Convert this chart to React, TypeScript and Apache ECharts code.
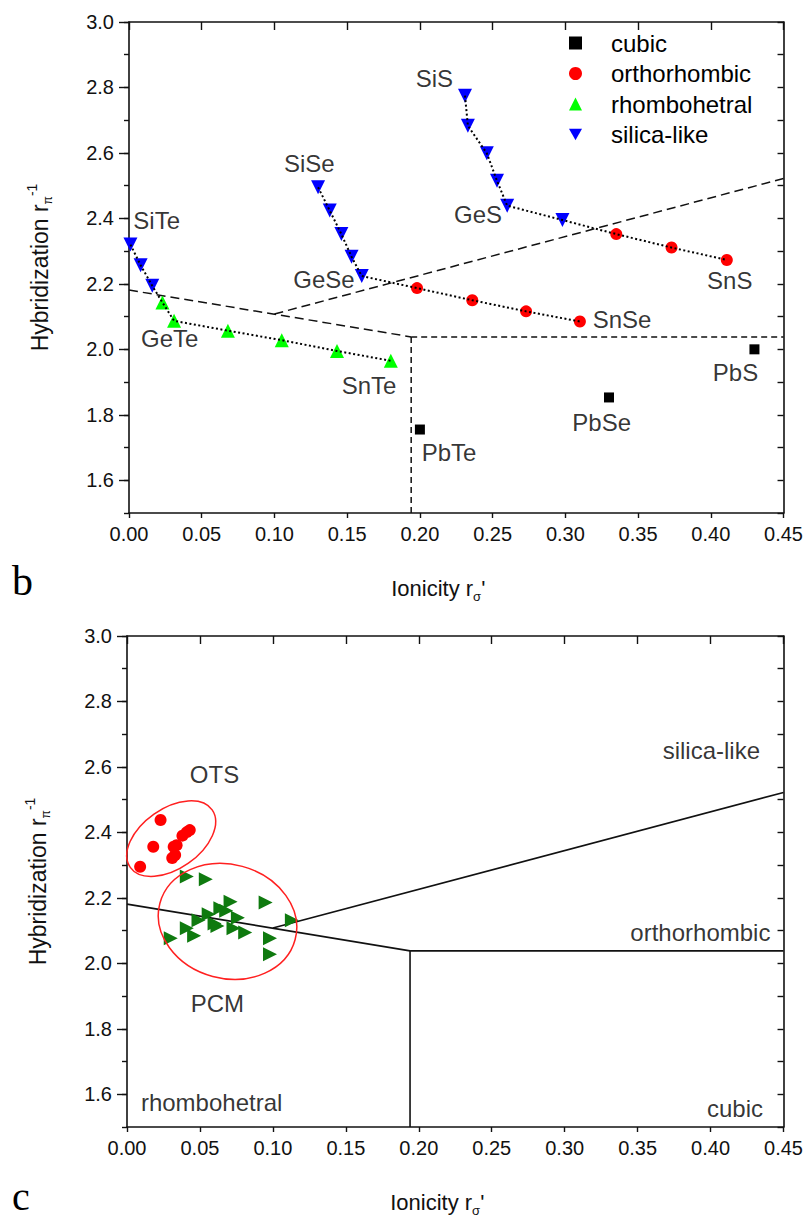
import React, { useEffect, useRef } from 'react';
import * as echarts from 'echarts';

const FONT = 'Arial, "Liberation Sans", Helvetica, sans-serif';

// ---------- panel b data ----------
const CUBIC = [[0.200, 1.755], [0.330, 1.853], [0.430, 2.000]];
const TE_SILICA = [[0.001, 2.320], [0.008, 2.257], [0.016, 2.194]];
const TE_RHOMBO = [[0.023, 2.143], [0.031, 2.087], [0.068, 2.057], [0.105, 2.028], [0.143, 1.995], [0.180, 1.965]];
const SE_SILICA = [[0.130, 2.495], [0.138, 2.424], [0.146, 2.352], [0.153, 2.283], [0.160, 2.224]];
const SE_ORTHO = [[0.198, 2.187], [0.236, 2.150], [0.273, 2.116], [0.310, 2.085]];
const S_SILICA = [[0.231, 2.775], [0.233, 2.683], [0.246, 2.599], [0.253, 2.515], [0.260, 2.439], [0.298, 2.395]];
const S_ORTHO = [[0.335, 2.352], [0.373, 2.311], [0.411, 2.273]];

const COMPOUND_LABELS_B = [
  { name: 'SiTe', value: [0.019, 2.395] },
  { name: 'GeTe', value: [0.028, 2.033] },
  { name: 'SnTe', value: [0.165, 1.890] },
  { name: 'SiSe', value: [0.124, 2.568] },
  { name: 'GeSe', value: [0.134, 2.213] },
  { name: 'SnSe', value: [0.339, 2.092] },
  { name: 'SiS', value: [0.210, 2.826] },
  { name: 'GeS', value: [0.240, 2.411] },
  { name: 'SnS', value: [0.413, 2.211] },
  { name: 'PbTe', value: [0.220, 1.686] },
  { name: 'PbSe', value: [0.325, 1.776] },
  { name: 'PbS', value: [0.417, 1.930] },
];

// phase boundaries (shared by both panels)
const BOUNDARY_RHOMBO = [[0.000, 2.181], [0.194, 2.038]];
const BOUNDARY_CUBIC_V = [[0.194, 2.038], [0.194, 1.5]];
const BOUNDARY_CUBIC_H = [[0.194, 2.038], [0.45, 2.038]];
const BOUNDARY_SILICA = [[0.100, 2.108], [0.45, 2.522]];

// ---------- panel c data ----------
const OTS = [[0.023, 2.438], [0.043, 2.407], [0.041, 2.401], [0.038, 2.390], [0.018, 2.356], [0.032, 2.356], [0.034, 2.361], [0.033, 2.331], [0.031, 2.322], [0.009, 2.295]];
const PCM = [[0.041, 2.265], [0.054, 2.257], [0.095, 2.186], [0.071, 2.188], [0.064, 2.168], [0.068, 2.161], [0.056, 2.150], [0.076, 2.139], [0.049, 2.132], [0.113, 2.132], [0.060, 2.122], [0.062, 2.114], [0.041, 2.107], [0.073, 2.107], [0.081, 2.094], [0.046, 2.084], [0.030, 2.077], [0.098, 2.077], [0.098, 2.028]];
const ELLIPSE_CENTERS = [[0.0303, 2.381], [0.0689, 2.128]];

const REGION_LABELS_C = [
  { name: 'OTS', value: [0.060, 2.576] },
  { name: 'PCM', value: [0.062, 1.876] },
  { name: 'silica-like', value: [0.4005, 2.650] },
  { name: 'orthorhombic', value: [0.393, 2.093] },
  { name: 'rhombohetral', value: [0.058, 1.576] },
  { name: 'cubic', value: [0.4167, 1.558] },
];

const X_MIN = 0, X_MAX = 0.45, X_STEP = 0.05;
const Y_MIN = 1.5, Y_MAX = 3.0, Y_MINOR = 0.1;
const Y_TICK_LABELS = [1.6, 1.8, 2.0, 2.2, 2.4, 2.6, 2.8, 3.0];

const LEGEND_NAMES = ['cubic', 'orthorhombic', 'rhombohetral', 'silica-like'];

const AXIS_COLOR = '#111';

function axesFor(g: number) {
  const line = { show: true, onZero: false, lineStyle: { color: AXIS_COLOR, width: 1.6 } };
  const tickStyle = { color: AXIS_COLOR, width: 1.4 };
  const xAxes = [
    {
      type: 'value', gridIndex: g, min: X_MIN, max: X_MAX, interval: X_STEP, position: 'bottom',
      axisLine: line, axisTick: { show: true, inside: false, length: 5, lineStyle: tickStyle },
      axisLabel: { color: '#111', fontSize: 20, fontFamily: FONT, margin: 11, formatter: (v: number) => v.toFixed(2) },
      splitLine: { show: false },
      name: '{a|Ionicity r}{sub|σ}{a|\'}', nameLocation: 'middle', nameGap: 60,
      nameTextStyle: {
        padding: [0, 36, 0, 0],
        rich: {
          a: { fontSize: 22, fontFamily: FONT, color: '#111', lineHeight: 30 },
          sub: { fontSize: 13, fontFamily: FONT, color: '#111', lineHeight: 14, padding: [16, 0, 0, 0] },
        },
      },
    },
    {
      type: 'value', gridIndex: g, min: X_MIN, max: X_MAX, interval: X_STEP, position: 'top',
      axisLine: line, axisTick: { show: true, inside: true, length: 8, lineStyle: tickStyle },
      axisLabel: { show: false }, splitLine: { show: false },
    },
  ];
  const yAxes = [
    {
      type: 'value', gridIndex: g, min: Y_MIN, max: Y_MAX, position: 'left',
      axisLine: line,
      axisTick: { show: true, inside: false, length: 10, lineStyle: tickStyle, customValues: Y_TICK_LABELS },
      axisLabel: { color: '#111', fontSize: 20, fontFamily: FONT, margin: 15, customValues: Y_TICK_LABELS, formatter: (v: number) => v.toFixed(1) },
      splitLine: { show: false },
      name: '{a|Hybridization r}{sub|π}{sup|-1}', nameLocation: 'middle', nameRotate: 90, nameGap: 74,
      nameTextStyle: {
        rich: {
          a: { fontSize: 23, fontFamily: FONT, color: '#111', lineHeight: 30 },
          sub: { fontSize: 12, fontFamily: FONT, color: '#111', lineHeight: 14, padding: [16, 0, 0, 0] },
          sup: { fontSize: 14, fontFamily: FONT, color: '#111', lineHeight: 14, padding: [0, 0, 16, 0] },
        },
      },
    },
    {
      type: 'value', gridIndex: g, min: Y_MIN, max: Y_MAX, interval: Y_MINOR, position: 'left',
      axisLine: { show: false }, axisTick: { show: true, inside: false, length: 5, lineStyle: tickStyle },
      axisLabel: { show: false }, splitLine: { show: false },
    },
    {
      type: 'value', gridIndex: g, min: Y_MIN, max: Y_MAX, interval: Y_MINOR, position: 'right',
      axisLine: line, axisTick: { show: true, inside: true, length: 6, lineStyle: tickStyle },
      axisLabel: { show: false }, splitLine: { show: false },
    },
  ];
  return { xAxes, yAxes };
}

function boundarySeries(xi: number, yi: number, dashed: boolean) {
  return [BOUNDARY_RHOMBO, BOUNDARY_CUBIC_V, BOUNDARY_CUBIC_H, BOUNDARY_SILICA].map((d, i) => ({
    type: 'line', xAxisIndex: xi, yAxisIndex: yi, data: d, symbol: 'none', silent: true, z: 3,
    lineStyle: { color: '#111', width: dashed ? 1.5 : 1.6, type: dashed ? (i === 1 || i === 2 ? [6, 4] : [9, 5]) : 'solid' },
  }));
}

function chainSeries(data: number[][]) {
  return {
    type: 'line', xAxisIndex: 0, yAxisIndex: 0, data, symbol: 'none', silent: true, z: 6,
    lineStyle: { color: '#000', width: 2, type: [2, 2.5] },
  };
}

function labelSeries(xi: number, yi: number, data: any[], size: number) {
  return {
    type: 'scatter', xAxisIndex: xi, yAxisIndex: yi, data, symbolSize: 0, silent: true, z: 10,
    itemStyle: { color: 'rgba(0,0,0,0)' },
    label: { show: true, position: 'inside', formatter: (p: any) => p.name, color: '#000', fontSize: size, fontFamily: FONT },
  };
}

function scatter(name: string | undefined, xi: number, yi: number, data: number[][], symbol: string, size: number, color: string, rotate = 0) {
  return {
    name, type: 'scatter', xAxisIndex: xi, yAxisIndex: yi, data, symbol, symbolSize: size, symbolRotate: rotate,
    itemStyle: { color, opacity: 1 }, z: 4, clip: false,
  };
}

export default function App() {
  const ref = useRef<HTMLDivElement>(null);
  useEffect(() => {
    if (!ref.current) return;
    const chart = echarts.init(ref.current, null, { renderer: 'svg' });
    const a0 = axesFor(0);
    const a1 = axesFor(1);
    const option: any = {
      animation: false,
      backgroundColor: '#fff',
      grid: [
        { left: 129, right: 19, top: 22, height: 491 },
        { left: 127, right: 21, top: 636, height: 491 },
      ],
      xAxis: [...a0.xAxes, ...a1.xAxes],
      yAxis: [...a0.yAxes, ...a1.yAxes],
      legend: {
        data: [
          { name: LEGEND_NAMES[0], icon: 'rect' },
          { name: LEGEND_NAMES[1], icon: 'circle' },
          { name: LEGEND_NAMES[2], icon: 'triangle' },
          { name: LEGEND_NAMES[3], icon: 'path://M0,0 L10,0 L5,8.66 Z' },
        ],
        orient: 'vertical', left: 564, top: 26,
        itemWidth: 13, itemHeight: 13, itemGap: 6.5, symbolKeepAspect: true,
        textStyle: { fontSize: 24, fontFamily: FONT, color: '#000', padding: [0, 0, 0, 24] },
      },
      graphic: [
        { type: 'text', left: 12, top: 560, style: { text: 'b', font: '42px "Liberation Serif", "Times New Roman", serif', fill: '#000' } },
        { type: 'text', left: 12, top: 1176, style: { text: 'c', font: '40px "Liberation Serif", "Times New Roman", serif', fill: '#000' } },
      ],
      series: [
        ...boundarySeries(0, 0, true),
        chainSeries([...TE_SILICA, ...TE_RHOMBO]),
        chainSeries([...SE_SILICA, ...SE_ORTHO]),
        chainSeries([...S_SILICA, ...S_ORTHO]),
        scatter('cubic', 0, 0, CUBIC, 'rect', 10, '#000'),
        scatter('orthorhombic', 0, 0, [...SE_ORTHO, ...S_ORTHO], 'circle', 12, '#ff0000'),
        scatter('rhombohetral', 0, 0, TE_RHOMBO, 'triangle', 14, '#00ff00'),
        scatter('silica-like', 0, 0, [...TE_SILICA, ...SE_SILICA, ...S_SILICA], 'triangle', 14, '#0000ff', 180),
        labelSeries(0, 0, COMPOUND_LABELS_B, 24),

        ...boundarySeries(2, 3, false),
        scatter(undefined, 2, 3, OTS, 'circle', 12, '#ff0000'),
        scatter(undefined, 2, 3, PCM, 'triangle', 14, '#0f7a0f', -90),
        {
          type: 'custom', xAxisIndex: 2, yAxisIndex: 3, data: ELLIPSE_CENTERS, silent: true, z: 5, clip: false,
          renderItem: (params: any, api: any) => {
            const c = api.coord([api.value(0), api.value(1)]);
            const shapes = [{ rx: 50, ry: 30, rot: 35 }, { rx: 70, ry: 57, rot: -15 }];
            const s = shapes[params.dataIndex];
            return {
              type: 'ellipse', x: c[0], y: c[1], rotation: (s.rot * Math.PI) / 180,
              shape: { cx: 0, cy: 0, rx: s.rx, ry: s.ry },
              style: { fill: 'none', stroke: '#ff2020', lineWidth: 1.5 },
            };
          },
        },
        labelSeries(2, 3, REGION_LABELS_C, 24),
      ],
    };
    chart.setOption(option);
    return () => chart.dispose();
  }, []);
  return <div ref={ref} style={{ position: 'absolute', left: 0, top: 0, width: 806, height: 1222, background: '#fff' }} />;
}
